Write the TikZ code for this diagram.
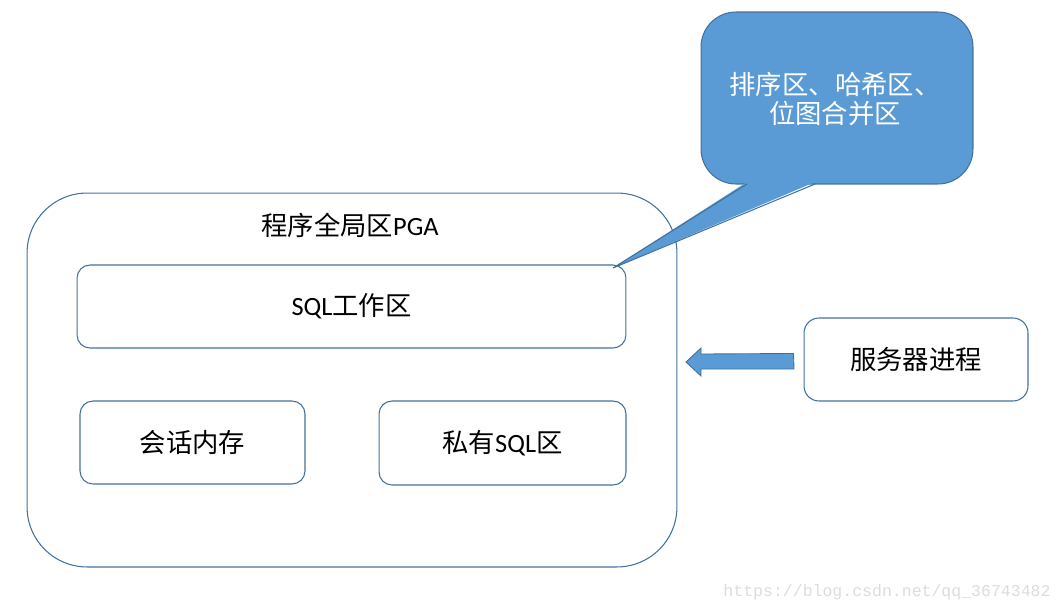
\documentclass[tikz,border=0pt]{standalone}
\usepackage{fontspec}
\setmainfont{Carlito}
\newfontfamily\cjk{Noto Sans CJK SC}
\newfontfamily\wmfont{Liberation Mono}
\definecolor{edge}{HTML}{41719C}
\definecolor{callfill}{HTML}{5B9BD5}
\definecolor{wm}{HTML}{DCDCDC}
\begin{document}
\begin{tikzpicture}[x=0.02cm,y=-0.02cm,
  box/.style={draw=edge,line width=0.6pt,rounded corners=0.26cm,inner sep=0pt,font=\fontsize{15}{17}\selectfont},
  lbl/.style={font=\fontsize{15}{17}\selectfont,inner sep=0pt}]
\useasboundingbox (0,0) rectangle (1062,613);
% PGA outer
\node[box,rounded corners=1.2cm,minimum width=13cm,minimum height=7.48cm] (pga) at (352,380) {};
\node[lbl] (pgat) at (350,225) {{\cjk 程序全局区}PGA};
% inner boxes
\node[box,minimum width=10.98cm,minimum height=1.66cm] (sqlw) at (351.5,306.5) {SQL{\cjk 工作区}};
\node[box,minimum width=4.5cm,minimum height=1.66cm] (sess) at (192.5,442.5) {\cjk 会话内存};
\node[box,minimum width=4.94cm,minimum height=1.68cm] (priv) at (502.5,443) {{\cjk 私有}SQL{\cjk 区}};
\node[box,rounded corners=0.3cm,minimum width=4.48cm,minimum height=1.66cm] (srv) at (916,359.5) {\cjk 服务器进程};
% block arrow
\coordinate (atip) at (686,362);
\filldraw[fill=callfill,draw=edge,line width=0.5pt]
  (srv.west) ++(-10,-6) -- (701,354) -- (701,348) -- (atip) -- (701,376) -- (701,369) -- (794,369) -- cycle;
% callout
\node[draw=edge,fill=callfill,line width=0.6pt,rounded corners=0.7cm,minimum width=5.44cm,minimum height=3.44cm,inner sep=0pt] (call) at (837,98) {};
\coordinate (ctip) at (613,268);
\fill[callfill] (747,182) -- (ctip) -- (815,182) -- cycle;
\draw[edge,line width=0.6pt] (747,184) -- (ctip) -- (815,184);
\node[lbl,text=white,align=center,font=\fontsize{15}{16.5}\selectfont\cjk] (callt) at (835,99) {排序区、哈希区、\\位图合并区};
% watermark
\node[inner sep=0pt,text=wm,font=\wmfont\fontsize{9.4}{11}\selectfont] (wmk) at (887,592) {https://blog.csdn.net/qq\_36743482};
\end{tikzpicture}
\end{document}
